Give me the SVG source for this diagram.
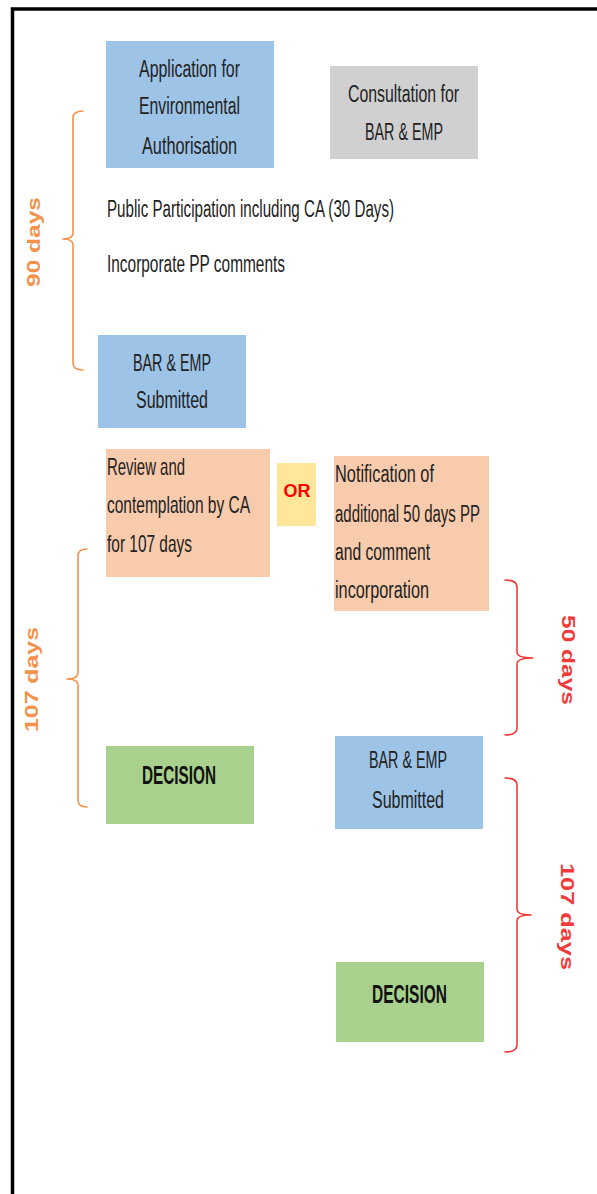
<svg xmlns="http://www.w3.org/2000/svg" width="597" height="1194" viewBox="0 0 597 1194">
<style>
.t{font-family:"Liberation Sans",Arial,sans-serif;font-size:23px;fill:#222}
.b{font-family:"Liberation Sans",Arial,sans-serif;font-size:25px;font-weight:bold;fill:#111}
.lbl{font-family:"Liberation Sans",Arial,sans-serif;font-size:18px;font-weight:bold}
.or{fill:#F4914B}
.rd{fill:#F23A3A}
.blue{fill:#9DC3E6}
.gray{fill:#D0D0D0}
.sal{fill:#F8CBAD}
.yel{fill:#FFE699}
.grn{fill:#A9D18E}
.br{fill:none;stroke-width:1.6;stroke-linecap:round;stroke-linejoin:round}
</style>
<rect width="597" height="1194" fill="#fff"/>
<path d="M12.5,1194 V9 H597" fill="none" stroke="#000" stroke-width="3.5"/>

<g id="application">
<rect x="106" y="41" width="168" height="127" class="blue"/>
<text class="t" x="139" y="77" textLength="101" lengthAdjust="spacingAndGlyphs">Application for</text>
<text class="t" x="139" y="114" textLength="101" lengthAdjust="spacingAndGlyphs">Environmental</text>
<text class="t" x="142" y="154" textLength="95" lengthAdjust="spacingAndGlyphs">Authorisation</text>
</g>
<g id="consultation">
<rect x="330" y="66" width="148" height="93" class="gray"/>
<text class="t" x="348" y="102" textLength="111" lengthAdjust="spacingAndGlyphs">Consultation for</text>
<text class="t" x="365" y="140" textLength="78" lengthAdjust="spacingAndGlyphs">BAR &amp; EMP</text>
</g>
<g id="public-participation">
<text class="t" x="107" y="217" textLength="287" lengthAdjust="spacingAndGlyphs">Public Participation including CA (30 Days)</text>
</g>
<g id="incorporate">
<text class="t" x="107" y="272" textLength="178" lengthAdjust="spacingAndGlyphs">Incorporate PP comments</text>
</g>
<g id="submitted1">
<rect x="98" y="335" width="148" height="93" class="blue"/>
<text class="t" x="133" y="371" textLength="78" lengthAdjust="spacingAndGlyphs">BAR &amp; EMP</text>
<text class="t" x="136" y="408" textLength="72" lengthAdjust="spacingAndGlyphs">Submitted</text>
</g>
<g id="review">
<rect x="106" y="449" width="164" height="128" class="sal"/>
<g transform="translate(107,0) scale(0.675,1)">
<text class="t" x="0" y="475" textLength="115.6" lengthAdjust="spacingAndGlyphs">Review and</text>
<text class="t" x="0" y="513" textLength="211.9" lengthAdjust="spacingAndGlyphs">contemplation by CA</text>
<text class="t" x="0" y="552" textLength="125.9" lengthAdjust="spacingAndGlyphs">for 107 days</text>
</g>
</g>
<g id="or">
<rect x="277" y="463" width="39" height="63" class="yel"/>
<text x="297" y="497" text-anchor="middle" style="font-family:'Liberation Sans',Arial,sans-serif;font-size:18px;font-weight:bold;fill:#FF0000">OR</text>
</g>
<g id="notification">
<rect x="334" y="456" width="155" height="155" class="sal"/>
<text class="t" x="335" y="482" textLength="99" lengthAdjust="spacingAndGlyphs">Notification of</text>
<text class="t" x="335" y="522" textLength="145" lengthAdjust="spacingAndGlyphs">additional 50 days PP</text>
<text class="t" x="335" y="560" textLength="95" lengthAdjust="spacingAndGlyphs">and comment</text>
<text class="t" x="335" y="598" textLength="94" lengthAdjust="spacingAndGlyphs">incorporation</text>
</g>
<g id="decision1">
<rect x="106" y="746" width="148" height="78" class="grn"/>
<text class="b" x="142" y="784" textLength="74" lengthAdjust="spacingAndGlyphs">DECISION</text>
</g>
<g id="submitted2">
<rect x="335" y="736" width="148" height="93" class="blue"/>
<text class="t" x="369" y="768" textLength="78" lengthAdjust="spacingAndGlyphs">BAR &amp; EMP</text>
<text class="t" x="372" y="808" textLength="72" lengthAdjust="spacingAndGlyphs">Submitted</text>
</g>
<g id="decision2">
<rect x="336" y="962" width="148" height="80" class="grn"/>
<text class="b" x="372" y="1003" textLength="75" lengthAdjust="spacingAndGlyphs">DECISION</text>
</g>

<g id="connectors">
<path class="br" stroke="#F4914B" d="M83,111 Q73,111 73,118 L73,233 Q73,239 63,239 Q73,239 73,245 L73,363 Q73,370 83,370"/>
<path class="br" stroke="#F4914B" d="M87,549 Q78,549 78,556 L78,673 Q78,679 67,679 Q78,679 78,685 L78,800 Q78,807 87,807"/>
<path class="br" stroke="#F23A3A" d="M505,580 Q517,580 517,587 L517,652 Q517,658 533,658 Q517,658 517,664 L517,728 Q517,735 505,735"/>
<path class="br" stroke="#F23A3A" d="M505,778 Q517,778 517,785 L517,909 Q517,915 531,915 Q517,915 517,921 L517,1045 Q517,1052 505,1052"/>
<text class="lbl or" transform="translate(40,242) rotate(-90)" x="-45" y="0" textLength="90" lengthAdjust="spacingAndGlyphs">90 days</text>
<text class="lbl or" transform="translate(38,679.5) rotate(-90)" x="-52.5" y="0" textLength="105" lengthAdjust="spacingAndGlyphs">107 days</text>
<text class="lbl rd" transform="translate(562,660) rotate(90)" x="-45" y="0" textLength="90" lengthAdjust="spacingAndGlyphs">50 days</text>
<text class="lbl rd" transform="translate(561,916.5) rotate(90)" x="-53.5" y="0" textLength="107" lengthAdjust="spacingAndGlyphs">107 days</text>
</g>
</svg>
